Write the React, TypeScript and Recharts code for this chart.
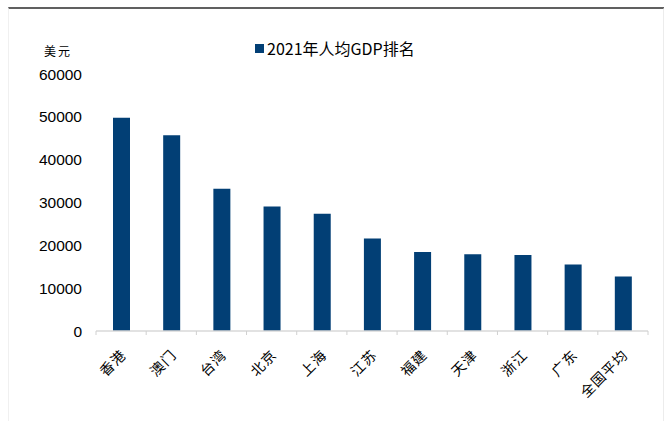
import { Bar, BarChart, Legend, XAxis, YAxis } from "recharts";

const regions = ["香港", "澳门", "台湾", "北京", "上海", "江苏", "福建", "天津", "浙江", "广东", "全国平均"];
const gdpPerCapita = [49800, 45700, 33200, 29050, 27400, 21600, 18450, 17900, 17750, 15500, 12750];
const yTicks = [0, 10000, 20000, 30000, 40000, 50000, 60000];

const data = regions.map((name, i) => ({ name, value: gdpPerCapita[i] }));

const W = 664;
const H = 421;
const MARGIN = { top: 74, right: 16, bottom: 0, left: 0 };
const Y_AXIS_W = 96;
const BAND = (W - MARGIN.left - MARGIN.right - Y_AXIS_W) / regions.length;
const NAVY = "#023f75";

function RegionTick(props: any) {
  const { x, y, payload, index } = props;
  const left = x - BAND / 2;
  const tx = x + 6;
  const ty = y + 17;
  return (
    <g>
      <line x1={left} y1={y - 8} x2={left} y2={y - 4} stroke="#d0d0d0" />
      {index === regions.length - 1 ? (
        <line x1={x + BAND / 2} y1={y - 8} x2={x + BAND / 2} y2={y - 4} stroke="#d0d0d0" />
      ) : null}
      <text
        x={tx}
        y={ty}
        transform={`rotate(-45, ${tx}, ${ty})`}
        textAnchor="end"
        fontSize={14}
        letterSpacing={1}
        fill="#000"
        fontFamily="'Noto Sans CJK SC', sans-serif"
      >
        {payload.value}
      </text>
    </g>
  );
}

function LegendBox() {
  return (
    <div style={{ display: "flex", alignItems: "center", fontFamily: "'Noto Sans CJK SC', sans-serif", fontSize: 16, color: "#000" }}>
      <span style={{ width: 9, height: 9, background: NAVY, marginRight: 3 }} />
      <span>2021年人均GDP排名</span>
    </div>
  );
}

export default function App() {
  return (
    <div style={{ position: "absolute", left: 0, top: 0, width: W, height: H, background: "#fff" }}>
      <div style={{ position: "absolute", left: 8, top: 7, width: 654, height: 414, borderTop: "2px solid #606060", borderLeft: "1px solid #f0f0f0", borderRight: "2px solid #ececec" }} />
      <div style={{ position: "absolute", left: 44, top: 42, fontSize: 12, fontFamily: "'Noto Sans CJK SC', serif", letterSpacing: 2 }}>
        美元
      </div>
      <BarChart width={W} height={H} data={data} margin={MARGIN} barCategoryGap={0}>
        <XAxis
          dataKey="name"
          interval={0}
          tickLine={false}
          axisLine={{ stroke: "#d9d9d9", strokeWidth: 1.5 }}
          tick={<RegionTick />}
          height={90}
        />
        <YAxis
          width={Y_AXIS_W}
          domain={[0, 60000]}
          ticks={yTicks}
          interval={0}
          axisLine={false}
          tickLine={false}
          tickMargin={8}
          tick={{ fontSize: 15.5, fill: "#000", fontFamily: "'Liberation Sans', Arial, sans-serif" }}
        />
        <Legend
          layout="horizontal"
          verticalAlign="middle"
          align="center"
          wrapperStyle={{ top: 36, left: 255, width: "auto" }}
          content={<LegendBox />}
        />
        <Bar dataKey="value" name="2021年人均GDP排名" fill={NAVY} barSize={17} isAnimationActive={false} />
      </BarChart>
    </div>
  );
}
